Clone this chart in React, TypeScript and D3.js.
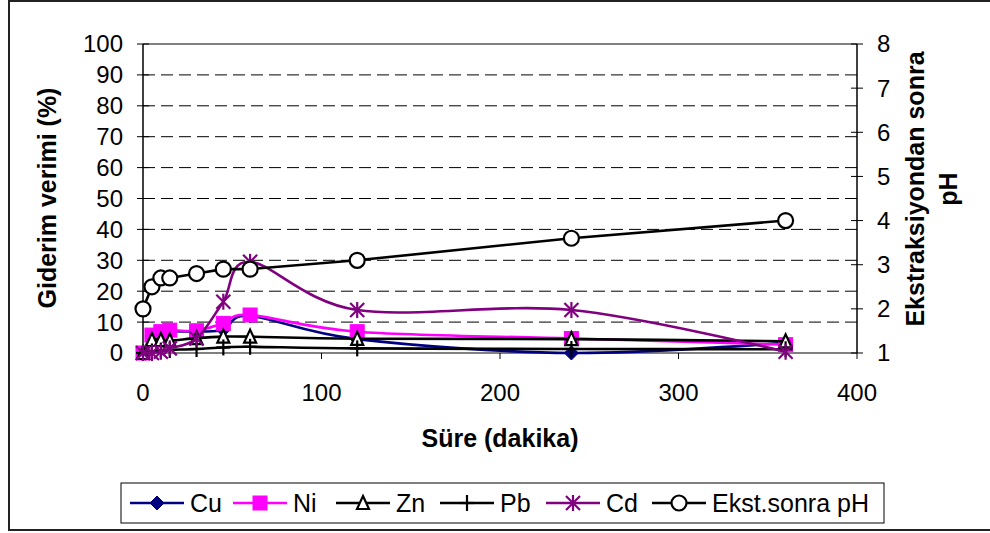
import React from "react";
import * as d3 from "d3";

const times = [0, 5, 10, 15, 30, 45, 60, 120, 240, 360];
const cuValues = [0, 5.5, 6.5, 7, 7, 7.5, 12, 4.5, 0, 3.3];
const niValues = [0, 5.8, 6.9, 7.4, 7.2, 9.6, 12.3, 6.9, 4.7, 2.7];
const znValues = [0, 4.2, 4.2, 4.0, 4.8, 5.3, 5.3, 4.6, 4.5, 3.8];
const pbValues = [0, 0.5, 0.8, 1.0, 1.3, 1.8, 2.0, 1.5, 1.3, 1.2];
const cdValues = [0, 0, 0.4, 1.5, 4.7, 16.6, 29.5, 13.9, 13.9, 0.4];
const phValues = [2.0, 2.5, 2.7, 2.7, 2.8, 2.9, 2.9, 3.1, 3.6, 4.0];

const leftTicks = [0, 10, 20, 30, 40, 50, 60, 70, 80, 90, 100];
const rightTicks = [1, 2, 3, 4, 5, 6, 7, 8];
const xTicks = [0, 100, 200, 300, 400];

const seriesNames = ["Cu", "Ni", "Zn", "Pb", "Cd", "Ekst.sonra pH"];

const FONT = "'Liberation Sans', Arial, sans-serif";

type MarkerKind = "diamond" | "square" | "triangle" | "plus" | "star" | "circle";

function Marker({ kind, x, y, color }: { kind: MarkerKind; x: number; y: number; color: string }) {
  switch (kind) {
    case "diamond":
      return <path d={`M${x},${y - 7}L${x + 7},${y}L${x},${y + 7}L${x - 7},${y}Z`} fill={color} stroke={color} strokeWidth={1} />;
    case "square":
      return <rect x={x - 7} y={y - 7} width={14} height={14} fill={color} stroke={color} strokeWidth={1} />;
    case "triangle":
      return <path d={`M${x},${y - 7}L${x + 6},${y + 6}L${x - 6},${y + 6}Z`} fill="white" stroke={color} strokeWidth={2.2} strokeLinejoin="miter" />;
    case "plus":
      return (
        <g stroke={color} strokeWidth={2.2}>
          <line x1={x - 7} y1={y} x2={x + 7} y2={y} />
          <line x1={x} y1={y - 8} x2={x} y2={y + 8} />
        </g>
      );
    case "star":
      return (
        <g stroke={color} strokeWidth={2.2}>
          <line x1={x - 7} y1={y - 7} x2={x + 7} y2={y + 7} />
          <line x1={x - 7} y1={y + 7} x2={x + 7} y2={y - 7} />
          <line x1={x} y1={y - 8} x2={x} y2={y + 8} />
        </g>
      );
    case "circle":
      return <circle cx={x} cy={y} r={7.5} fill="white" stroke={color} strokeWidth={2.2} />;
  }
  return null;
}

export default function App() {
  const W = 990, H = 533;
  const x0 = 143, x1 = 857, yTop = 44, yBot = 353;
  const xScale = d3.scaleLinear().domain([0, 400]).range([x0, x1]);
  const yLeft = d3.scaleLinear().domain([0, 100]).range([yBot, yTop]);
  const yRight = d3.scaleLinear().domain([1, 8]).range([yBot, yTop]);

  const series = [
    { name: seriesNames[0], values: cuValues, color: "#000080", marker: "diamond" as MarkerKind, scale: yLeft, smooth: true },
    { name: seriesNames[1], values: niValues, color: "#FF00FF", marker: "square" as MarkerKind, scale: yLeft, smooth: true },
    { name: seriesNames[2], values: znValues, color: "#000000", marker: "triangle" as MarkerKind, scale: yLeft, smooth: true },
    { name: seriesNames[3], values: pbValues, color: "#000000", marker: "plus" as MarkerKind, scale: yLeft, smooth: true },
    { name: seriesNames[4], values: cdValues, color: "#800080", marker: "star" as MarkerKind, scale: yLeft, smooth: true },
    { name: seriesNames[5], values: phValues, color: "#000000", marker: "circle" as MarkerKind, scale: yRight, smooth: false },
  ];

  const legendX = [130, 233, 336, 440, 546, 652];

  return (
    <svg width={W} height={H} style={{ position: "absolute", left: 0, top: 0, background: "white" }} fontFamily={FONT}>
      <rect x={9} y={1} width={1000} height={529} fill="white" stroke="#222" strokeWidth={2} />

      {/* gridlines */}
      {leftTicks.filter((t) => t > 0 && t < 100).map((t) => (
        <line key={"g" + t} x1={x0} x2={x1} y1={yLeft(t)} y2={yLeft(t)} stroke="#000" strokeWidth={1} strokeDasharray="12,6" />
      ))}
      <line x1={x0} x2={x1} y1={yTop} y2={yTop} stroke="#808080" strokeWidth={2} />
      <line x1={x0} x2={x1} y1={yBot} y2={yBot} stroke="#808080" strokeWidth={2} />

      {/* axes */}
      <line x1={x0} x2={x0} y1={yTop} y2={yBot} stroke="#000" strokeWidth={1.5} />
      <line x1={x1} x2={x1} y1={yTop} y2={yBot} stroke="#000" strokeWidth={1.5} />
      {leftTicks.map((t) => (
        <g key={"lt" + t}>
          <line x1={x0 - 6} x2={x0 + 6} y1={yLeft(t)} y2={yLeft(t)} stroke="#000" strokeWidth={1} />
          <text x={123} y={yLeft(t)} dy="0.35em" textAnchor="end" fontSize={24}>{t}</text>
        </g>
      ))}
      {rightTicks.map((t) => (
        <g key={"rt" + t}>
          <line x1={x1 - 6} x2={x1 + 6} y1={yRight(t)} y2={yRight(t)} stroke="#000" strokeWidth={1} />
          <text x={877} y={yRight(t)} dy="0.35em" textAnchor="start" fontSize={24}>{t}</text>
        </g>
      ))}
      {xTicks.map((t) => (
        <g key={"xt" + t}>
          <line x1={xScale(t)} x2={xScale(t)} y1={yBot} y2={yBot + 6} stroke="#000" strokeWidth={1} />
          <text x={xScale(t)} y={393} dy="0.35em" textAnchor="middle" fontSize={24}>{t}</text>
        </g>
      ))}

      {/* titles */}
      <text transform="translate(47,198) rotate(-90)" textAnchor="middle" dy="0.35em" fontSize={25} fontWeight="bold">Giderim verimi (%)</text>
      <text transform="translate(915,189) rotate(-90)" textAnchor="middle" dy="0.35em" fontSize={25} fontWeight="bold">Ekstraksiyondan sonra</text>
      <text transform="translate(948,189) rotate(-90)" textAnchor="middle" dy="0.35em" fontSize={25} fontWeight="bold">pH</text>
      <text x={500} y={438} dy="0.35em" textAnchor="middle" fontSize={25} fontWeight="bold">Süre (dakika)</text>

      {/* series */}
      {series.map((s) => {
        const line = d3
          .line<number>()
          .x((_, i) => xScale(times[i]))
          .y((v) => s.scale(v))
          .curve(s.smooth ? d3.curveCardinal.tension(0) : d3.curveLinear);
        return (
          <g key={s.name}>
            <path d={line(s.values) || ""} fill="none" stroke={s.color} strokeWidth={2.6} />
            {s.values.map((v, i) => (
              <Marker key={i} kind={s.marker} x={xScale(times[i])} y={s.scale(v)} color={s.color} />
            ))}
          </g>
        );
      })}

      {/* legend */}
      <rect x={121} y={483} width={763} height={40} fill="white" stroke="#000" strokeWidth={1} />
      {series.map((s, i) => {
        const lx = legendX[i];
        const cy = 503;
        return (
          <g key={"lg" + s.name}>
            <line x1={lx} x2={lx + 54} y1={cy} y2={cy} stroke={s.color} strokeWidth={2.6} />
            <Marker kind={s.marker} x={lx + 27} y={cy} color={s.color} />
            <text x={lx + 60} y={cy} dy="0.35em" fontSize={25}>{s.name}</text>
          </g>
        );
      })}
    </svg>
  );
}
